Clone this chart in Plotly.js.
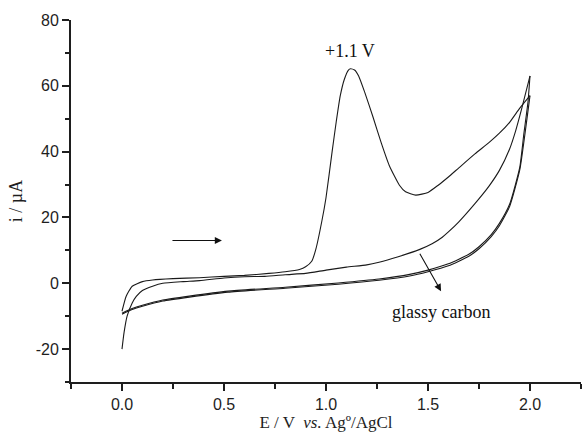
<!DOCTYPE html>
<html>
<head>
<meta charset="utf-8">
<script src="https://cdn.plot.ly/plotly-3.0.1.min.js"></script>
<style>html,body{margin:0;padding:0;background:#fff;}#chart{width:582px;height:435px;}</style>
</head>
<body>
<div id="chart"></div>
<script>
// Scan 1, forward sweep (oxidation peak at +1.1 V)
const scan1FwdE = [0, 0.02, 0.05, 0.1, 0.15, 0.25, 0.38, 0.5, 0.6, 0.72, 0.8, 0.87, 0.9, 0.93, 0.95, 0.98, 1.0, 1.03, 1.05, 1.07, 1.09, 1.11, 1.12, 1.14, 1.16, 1.19, 1.23, 1.27, 1.31, 1.36, 1.39, 1.44, 1.5, 1.55, 1.6, 1.65, 1.73, 1.8, 1.85, 1.9, 1.95, 2.0];
const scan1FwdI = [-8.5, -4, -0.9, 0.5, 1.0, 1.4, 1.7, 2.1, 2.4, 3.0, 3.5, 4.2, 5.0, 6.7, 10.3, 19, 26, 40, 49, 57, 62, 64.8, 65.2, 64.8, 63, 58, 50.6, 42.8, 35.8, 29.8, 27.8, 26.8, 27.6, 29.8, 32.3, 35, 39.3, 42.8, 45.6, 48.9, 53.2, 57];
// Scan 2, forward sweep (no peak)
const scan2FwdE = [0, 0.01, 0.025, 0.05, 0.07, 0.1, 0.15, 0.2, 0.3, 0.38, 0.5, 0.6, 0.7, 0.8, 0.9, 1.0, 1.1, 1.2, 1.26, 1.35, 1.46, 1.52, 1.57, 1.6, 1.65, 1.73, 1.8, 1.85, 1.9, 1.93, 1.96, 2.0];
const scan2FwdI = [-20, -15, -10, -6, -4, -2.2, -0.9, 0, 0.5, 0.8, 1.6, 2.0, 2.1, 2.6, 3.0, 4.0, 4.9, 5.6, 6.4, 8.0, 10.3, 12, 14.0, 15.6, 18.6, 24.2, 29.6, 34.3, 40.8, 46.4, 53.2, 63];
// Reverse sweeps
const rev1E = [2.0, 1.98, 1.95, 1.9, 1.85, 1.81, 1.75, 1.7, 1.6, 1.5, 1.41, 1.26, 1.06, 0.8, 0.52, 0.33, 0.2, 0.1, 0.05, 0];
const rev1I = [57, 47.6, 34.5, 23.3, 17.5, 14.2, 10.5, 8.2, 5.3, 3.5, 2.2, 0.9, -0.3, -1.5, -2.7, -4.2, -5.4, -7, -8, -9.4];
const rev2E = [2.0, 1.99, 1.97, 1.95, 1.9, 1.85, 1.81, 1.75, 1.7, 1.6, 1.5, 1.41, 1.26, 1.06, 0.8, 0.52, 0.33, 0.2, 0.1, 0.05, 0];
const rev2I = [63, 55, 45.5, 35.3, 24.0, 18.2, 14.8, 11.1, 8.8, 5.9, 4.0, 2.7, 1.3, 0.1, -1.2, -2.4, -3.9, -5.1, -6.7, -7.7, -9.1];

const xTickVals = [0, 0.5, 1.0, 1.5, 2.0];
const xTickText = ['0.0', '0.5', '1.0', '1.5', '2.0'];
const yTickVals = [-20, 0, 20, 40, 60, 80];
const yTickText = ['-20', '0', '20', '40', '60', '80'];

const lineStyle = {color: '#1a1a1a', width: 1.1, shape: 'spline', smoothing: 0.5};
const traces = [
  [scan1FwdE, scan1FwdI],
  [scan2FwdE, scan2FwdI],
  [rev1E, rev1I],
  [rev2E, rev2I]
].map(p => ({x: p[0], y: p[1], mode: 'lines', line: lineStyle, hoverinfo: 'skip', showlegend: false}));

const axisColor = '#1e1e1e';
const serif = 'Liberation Serif, Times New Roman, serif';
const sans = 'Liberation Sans, Arial, sans-serif';

const layout = {
  width: 582, height: 435,
  margin: {l: 71, r: 1, t: 20, b: 53},
  paper_bgcolor: '#fff', plot_bgcolor: '#fff',
  showlegend: false,
  xaxis: {
    range: [-0.25, 2.25], showgrid: false, zeroline: false,
    showline: true, linecolor: axisColor, linewidth: 2,
    tickmode: 'array', tickvals: xTickVals, ticktext: xTickText,
    ticks: 'outside', ticklen: 7, tickwidth: 2, tickcolor: axisColor,
    minor: {tickmode: 'linear', tick0: -0.25, dtick: 0.25, ticks: 'outside', ticklen: 5, tickwidth: 2, tickcolor: axisColor},
    tickfont: {family: sans, size: 16, color: axisColor},
    title: {text: 'E / V  <i>vs.</i> Agº/AgCl', font: {family: serif, size: 17, color: axisColor}, standoff: 4}
  },
  yaxis: {
    range: [-30, 80], showgrid: false, zeroline: false,
    showline: true, linecolor: axisColor, linewidth: 2,
    tickmode: 'array', tickvals: yTickVals, ticktext: yTickText,
    ticks: 'outside', ticklen: 7, tickwidth: 2, tickcolor: axisColor,
    minor: {tickmode: 'linear', tick0: -30, dtick: 10, ticks: 'outside', ticklen: 4, tickwidth: 2, tickcolor: axisColor},
    tickfont: {family: sans, size: 16, color: axisColor},
    title: {text: 'i / µA', font: {family: serif, size: 18, color: axisColor}, standoff: 8}
  },
  annotations: [
    {x: 1.12, y: 67, xref: 'x', yref: 'y', text: '+1.1 V', showarrow: false, yanchor: 'bottom', font: {family: serif, size: 18, color: '#111'}},
    {x: 1.565, y: -8.8, xref: 'x', yref: 'y', text: 'glassy carbon', showarrow: false, font: {family: serif, size: 18, color: '#111'}},
    {x: 0.49, y: 13, ax: 0.24, ay: 13, xref: 'x', yref: 'y', axref: 'x', ayref: 'y', text: '', showarrow: true, arrowhead: 2, arrowsize: 1.3, arrowwidth: 1.1, arrowcolor: '#111'},
    {x: 1.564, y: -2.4, ax: 1.456, ay: 9.4, xref: 'x', yref: 'y', axref: 'x', ayref: 'y', text: '', showarrow: true, arrowhead: 2, arrowsize: 1.3, arrowwidth: 1.1, arrowcolor: '#111'}
  ]
};

Plotly.newPlot('chart', traces, layout, {staticPlot: true, displayModeBar: false});
</script>
</body>
</html>
